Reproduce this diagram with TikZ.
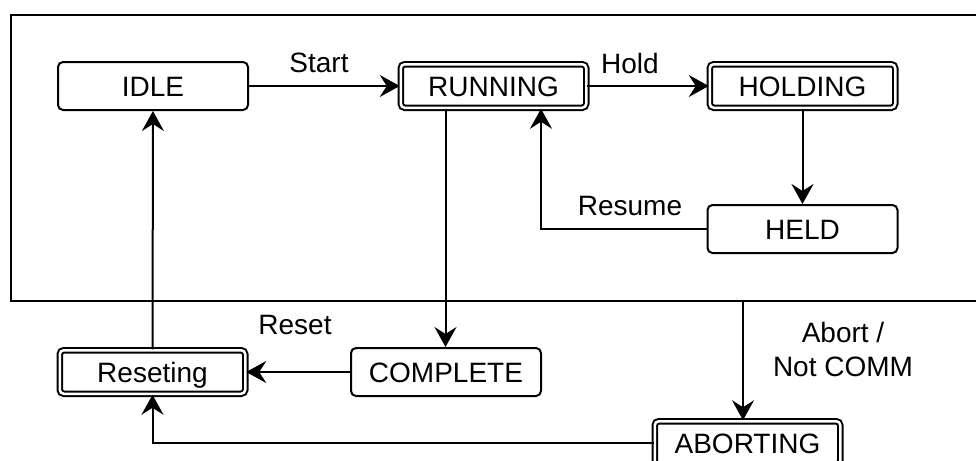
\documentclass[tikz,border=0pt]{standalone}
\usepackage{fontspec}
\setmainfont{Liberation Sans}
\usetikzlibrary{arrows.meta}
\begin{document}
\begin{tikzpicture}[x=0.5pt, y=-0.5pt, line width=1pt, font=\fontsize{14pt}{17pt}\selectfont]

    % Styles
    \tikzstyle{state} = [rectangle, rounded corners=2.5pt, minimum width=95pt, minimum height=24pt, text height=10pt, text depth=0pt, text centered, draw=black, fill=white]
    \tikzstyle{dstate} = [state, double, double distance=1.25pt, rounded corners=2pt, minimum width=92.75pt, minimum height=21.75pt]
    \tikzstyle{arrow} = [-{Stealth[length=10pt, width=11pt, inset=3.5pt]}]
    \tikzstyle{lbl} = [align=center, inner sep=0pt]

    \clip (0,0) rectangle (976,461);

    % Frame
    \node (frame) [draw, rectangle, minimum width=490pt, minimum height=143pt, anchor=north west, inner sep=0pt] at (10,14) {};

    % Nodes
    \node (idle) [state] at (153,86) {IDLE};
    \node (running) [dstate] at (493.5,86) {RUNNING};
    \node (holding) [dstate] at (802.5,86) {HOLDING};
    \node (held) [state] at (802.5,229) {HELD};
    \node (complete) [state] at (446,372) {COMPLETE};
    \node (reseting) [dstate] at (152.5,372) {Reseting};
    \node (aborting) [dstate] at (747.5,443) {ABORTING};

    % Arrows
    \draw [arrow] (idle) -- (running);
    \draw [arrow] (running) -- (holding);
    \draw [arrow] (holding) -- (held);
    \draw [arrow] (held.west) -| ([xshift=23.75pt]running.south);
    \draw [arrow] ([xshift=-24pt]running.south) -- ([xshift=-24pt]running.south |- complete.north);
    \draw [arrow] (complete) -- (reseting);
    \draw [arrow] (reseting) -- (idle);
    \draw [arrow] ([xshift=-2.25pt]aborting.north |- frame.south) -- ([xshift=-2.25pt]aborting.north);
    \draw [arrow] (aborting.west) -| (reseting.south);

    % Labels
    \node (start) [lbl] at (319,63) {Start};
    \node (hold) [lbl] at (630,63) {Hold};
    \node (resume) [lbl] at (630,206) {Resume};
    \node (reset) [lbl] at (295,325) {Reset};
    \node (abort) [lbl] at (843,349) {Abort /\\Not COMM};

\end{tikzpicture}
\end{document}
